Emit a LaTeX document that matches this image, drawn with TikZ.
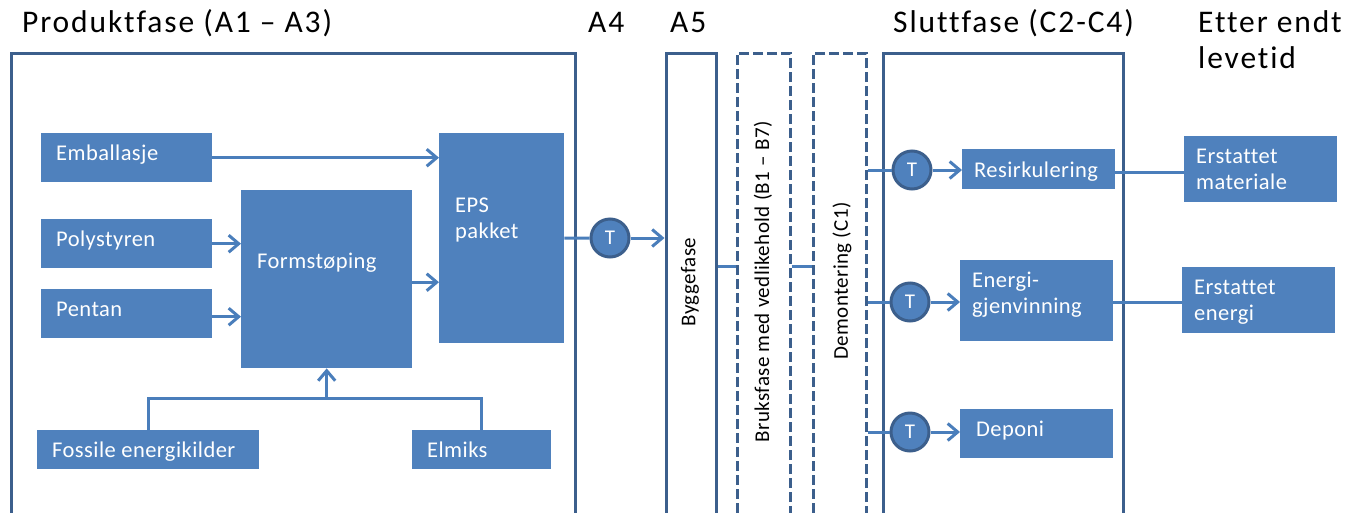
\documentclass[tikz,border=0pt]{standalone}
\usepackage{fontspec}
\setmainfont[Ligatures=NoCommon]{Carlito}
\newfontfamily\hdfont[LetterSpace=6,Ligatures=NoCommon]{Carlito}
\newfontfamily\bxfont[LetterSpace=2,Ligatures=NoCommon]{Carlito}
\usetikzlibrary{arrows.meta,calc}
\definecolor{boxblue}{RGB}{79,129,189}
\definecolor{edgeblue}{RGB}{60,95,140}
\definecolor{arrblue}{RGB}{74,126,187}
\begin{document}
\begin{tikzpicture}[x=1pt,y=-1pt,
  box/.style={fill=boxblue, draw=none, inner sep=0pt, anchor=north west},
  phase/.style={draw=edgeblue, line width=3pt, inner sep=0pt, anchor=north west},
  dphase/.style={phase, dash pattern=on 10pt off 4pt},
  head/.style={font=\hdfont\fontsize{31.5}{36}\selectfont, text=black, inner sep=0pt, anchor=base west, align=left},
  btxt/.style={font=\bxfont\fontsize{22.5}{26}\selectfont, text=white, inner sep=0pt, anchor=base west, align=left},
  rtxt/.style={font=\bxfont\fontsize{21}{24}\selectfont, text=black, inner sep=0pt, rotate=90},
  tcirc/.style={circle, fill=boxblue, draw=edgeblue, line width=3pt, minimum size=38pt, inner sep=0pt, text=white, font=\fontsize{21}{24}\selectfont},
  ln/.style={draw=arrblue, line width=3pt},
  arr/.style={ln, -{Straight Barb[length=10pt,width=17pt,line width=3pt]}}
]
\path[use as bounding box] (0,0) rectangle (1357,512);
\clip (0,0) rectangle (1357,512);
\fill[white] (0,0) rectangle (1357,512);

% headers
\node[head] (hprod) at (22,32) {Produktfase (A1 – A3)};
\node[head] (ha4) at (588,32) {A4};
\node[head] (ha5) at (670,32) {A5};
\node[head] (hslutt) at (893,32) {Sluttfase (C2-C4)};
\node[head] (hetter) at (1198,68) {Etter endt\\[-0.5pt]levetid};

% phase frames
\node[phase, minimum width=564pt, minimum height=480pt] (prod) at (9.5,51.5) {};
\node[phase, minimum width=50.5pt, minimum height=480pt] (bygg) at (664.5,51.5) {};
\node[dphase, minimum width=53pt, minimum height=480pt] (bruk) at (735.5,51.5) {};
\node[dphase, minimum width=53pt, minimum height=480pt] (demo) at (811.5,51.5) {};
\node[phase, minimum width=240pt, minimum height=480pt] (slutt) at (881.5,51.5) {};

\node[rtxt] (byggt) at (690,282) {Byggefase};
\node[rtxt] (brukt) at (763,282) {Bruksfase med vedlikehold (B1 – B7)};
\node[rtxt] (demot) at (842,281) {Demontering (C1)};

% product boxes
\node[box, minimum width=171pt, minimum height=49pt] (emb) at (41,133) {};
\node[box, minimum width=171pt, minimum height=49pt] (poly) at (41,219) {};
\node[box, minimum width=171pt, minimum height=49pt] (pen) at (41,289) {};
\node[box, minimum width=171pt, minimum height=178pt] (form) at (241,190) {};
\node[box, minimum width=125pt, minimum height=210pt] (eps) at (439,133) {};
\node[box, minimum width=222pt, minimum height=39pt] (fos) at (37,430) {};
\node[box, minimum width=139pt, minimum height=39pt] (elm) at (412,430) {};

\node[btxt] (embt) at (56,160) {Emballasje};
\node[btxt] (polyt) at (56,246) {Polystyren};
\node[btxt] (pent) at (56,316) {Pentan};
\node[btxt] (formt) at (257,268) {Formstøping};
\node[btxt] (epst) at (455,238) {EPS\\pakket};
\node[btxt] (fost) at (52,457) {Fossile energikilder};
\node[btxt] (elmt) at (427,457) {Elmiks};

% end-of-life boxes
\node[box, minimum width=153pt, minimum height=40pt] (res) at (962,149) {};
\node[box, minimum width=153pt, minimum height=81pt] (ene) at (960,260) {};
\node[box, minimum width=153pt, minimum height=49pt] (dep) at (960,409) {};
\node[box, minimum width=153pt, minimum height=66pt] (ema) at (1184,136) {};
\node[box, minimum width=153pt, minimum height=66pt] (een) at (1182,267) {};

\node[btxt] (rest) at (974,177) {Resirkulering};
\node[btxt] (enet) at (972,313) {Energi-\\gjenvinning};
\node[btxt] (dept) at (976,436) {Deponi};
\node[btxt] (emat) at (1196,189) {Erstattet\\materiale};
\node[btxt] (eent) at (1194,320) {Erstattet\\energi};

% transport circles
\node[tcirc] (ta4) at (610,238) {T};
\node[tcirc] (t1) at (912,170) {T};
\node[tcirc] (t2) at (910,302) {T};
\node[tcirc] (t3) at (910,432) {T};

% connectors in product phase
\draw[arr] (emb.east) -- (emb.east -| eps.west);
\draw[arr] (poly.east) -- (poly.east -| form.west);
\draw[arr] ([yshift=-3pt]pen.east) -- ([yshift=-3pt]pen.east -| form.west);
\draw[arr] ([yshift=-3pt]form.east) -- ([yshift=-3pt]form.east -| eps.west);
\coordinate (junc) at ($(form.south)+(0,30)$);
\draw[ln] (fos.north) -- (fos.north |- junc) -- (elm.north |- junc) -- (elm.north);
\draw[arr] (junc) -- (form.south);

% A4 transport
\draw[ln] (eps.east) -- (ta4);
\draw[arr] (ta4) -- (ta4 -| bygg.west);

% use phase links
\coordinate (lk) at ($(bygg.east)+(0,-27)$);
\draw[ln] (lk) -- (lk -| bruk.west);
\draw[ln] (lk -| bruk.east) -- (lk -| demo.west);

% end of life transport
\draw[ln] (t1 -| demo.east) -- (t1);
\draw[arr] (t1) -- (t1 -| res.west);
\draw[ln] (t2 -| demo.east) -- (t2);
\draw[arr] (t2) -- (t2 -| ene.west);
\draw[ln] (t3 -| demo.east) -- (t3);
\draw[arr] (t3) -- (t3 -| dep.west);

\draw[ln] ([yshift=-3pt]res.east) -- ([yshift=-3pt]res.east -| ema.west);
\draw[ln] ([yshift=-2pt]ene.east) -- ([yshift=-2pt]ene.east -| een.west);
\end{tikzpicture}
\end{document}
